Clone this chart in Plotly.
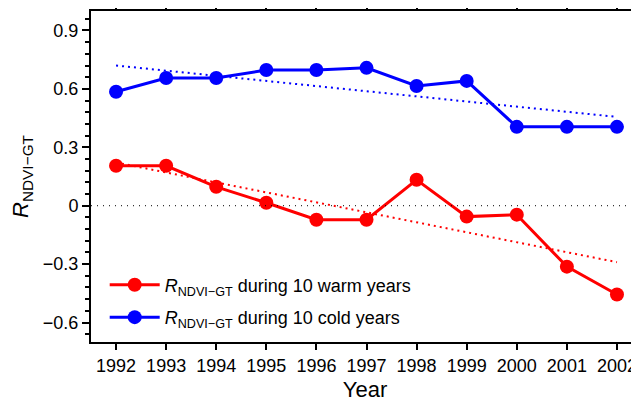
import plotly.graph_objects as go

years = [1992, 1993, 1994, 1995, 1996, 1997, 1998, 1999, 2000, 2001, 2002]
warm = [0.205, 0.205, 0.097, 0.015, -0.072, -0.072, 0.133, -0.056, -0.046, -0.313, -0.456]
cold = [0.585, 0.656, 0.656, 0.697, 0.697, 0.708, 0.615, 0.641, 0.405, 0.405, 0.405]
trend_years = [1992, 2002]
warm_trend = [0.222, -0.29]
cold_trend = [0.72, 0.456]
ytick_vals = [0.9, 0.6, 0.3, 0, -0.3, -0.6]
ytick_text = ["0.9", "0.6", "0.3", "0", "\u22120.3", "\u22120.6"]

FONT = "Liberation Sans, Arial, Helvetica, sans-serif"
lab = "<i>R</i><sub>NDVI\u2212GT</sub>"

fig = go.Figure()
fig.add_hline(y=0, line=dict(color="black", width=1, dash="1px,5px"))
fig.add_trace(go.Scatter(x=trend_years, y=cold_trend, mode="lines",
                         line=dict(color="#0000ff", width=2, dash="2px,4px"), showlegend=False))
fig.add_trace(go.Scatter(x=trend_years, y=warm_trend, mode="lines",
                         line=dict(color="#ff0000", width=2, dash="2px,4px"), showlegend=False))
fig.add_trace(go.Scatter(x=years, y=warm, mode="lines+markers", name=lab + " during 10 warm years",
                         legendgroup="w",
                         line=dict(color="#ff0000", width=3),
                         marker=dict(color="#ff0000", size=14)))
fig.add_trace(go.Scatter(x=years, y=cold, mode="lines+markers", name=lab + " during 10 cold years",
                         legendgroup="c",
                         line=dict(color="#0000ff", width=3),
                         marker=dict(color="#0000ff", size=14)))

# page body has an 8px margin, so the figure is sized to the visible area
fig.update_layout(
    width=631, height=394,
    margin=dict(l=83, r=0, t=3, b=60),
    paper_bgcolor="white", plot_bgcolor="white",
    font=dict(family=FONT, size=18, color="black"),
    showlegend=True,
    legend=dict(x=0.025, y=0.228, xanchor="left", yanchor="top",
                bgcolor="rgba(0,0,0,0)", font=dict(size=18), tracegroupgap=6,
                itemwidth=50),
)
fig.update_xaxes(
    range=[1991.5, 2002.44], tickmode="array", tickvals=years,
    ticktext=[str(y) for y in years],
    showline=True, linecolor="black", linewidth=2, mirror="ticks",
    ticks="outside", ticklen=6, tickwidth=1.5, tickcolor="black",
    showgrid=False, zeroline=False, automargin=False,
    title=dict(text="Year", standoff=8),
)
fig.update_yaxes(
    range=[-0.7, 1.0], tickmode="array", tickvals=ytick_vals, ticktext=ytick_text,
    showline=True, linecolor="black", linewidth=2,
    ticks="outside", ticklen=7, tickwidth=1.5, tickcolor="black",
    minor=dict(dtick=0.06, tick0=0, ticks="outside", ticklen=4, tickwidth=1.5, tickcolor="black"),
    showgrid=False, zeroline=False, automargin=False,
    title=dict(text=lab, standoff=21),
)
fig.write_html("out.html")
